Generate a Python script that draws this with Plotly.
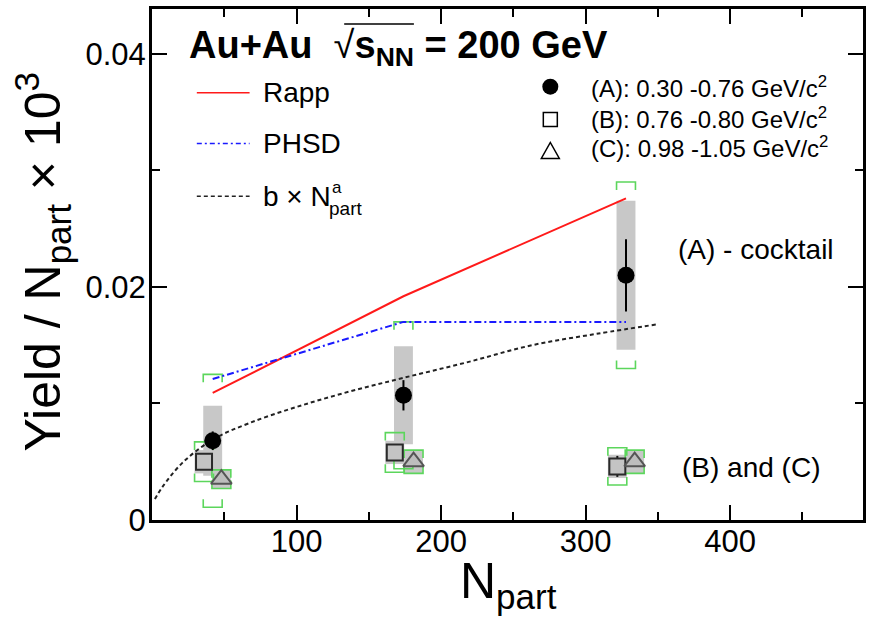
import plotly.graph_objects as go

# Mean number of participants for the three centrality classes
npart_A = [42, 174, 328]
npart_B = [36, 168, 322]
npart_C = [48, 181, 334]

# (A) 0.30-0.76 GeV/c^2 : yield / Npart x 10^3
yield_A = [0.0068, 0.0107, 0.0210]
stat_A = [0.0008, 0.0013, 0.0031]
sys_A = [0.0030, 0.0042, 0.0064]
cocktail_A = [0.0057, 0.0063, 0.0080]

# (B) 0.76-0.80 GeV/c^2
yield_B = [0.0050, 0.0058, 0.0046]
stat_B = [0.0005, 0.0006, 0.0009]
sys_B = [0.0010, 0.0010, 0.0010]
bracket_B = [0.0017, 0.0017, 0.0016]

# (C) 0.98-1.05 GeV/c^2
yield_C = [0.0035, 0.0050, 0.0050]
sys_C = [0.0008, 0.0010, 0.0010]
bracket_C = [0.0008, 0.0010, 0.0010]

# Model calculations
model_npart = [42, 174, 328]
rapp = [0.0109, 0.0192, 0.0276]
phsd = [0.0121, 0.0170, 0.0170]

# Power-law fit b x Npart^a, sampled along the curve
fit_npart = [2, 7, 21, 42, 67, 100, 136, 174, 217, 263, 309, 350]
fit_vals = [0.0018, 0.0028, 0.0049, 0.0069, 0.0083, 0.0097, 0.0110, 0.0122,
            0.0135, 0.0150, 0.0160, 0.0168]

x_tickvals = [100, 200, 300, 400]
y_tickvals = [0, 0.02, 0.04]
y_ticktext = ["0", "0.02", "0.04"]

X_RANGE = [0, 492]
Y_RANGE = [0, 0.04385]

W, H = 872, 618
L, R, T, B = 152, 866, 7, 520          # plot-area edges in pixels
FONT = "Liberation Sans, Arial, Helvetica, sans-serif"
GREEN = "#5cd65c"
GREY = "#c8c8c8"

px_per_x = (R - L) / (X_RANGE[1] - X_RANGE[0])
px_per_y = (B - T) / (Y_RANGE[1] - Y_RANGE[0])
BOX_HW = 9.5 / px_per_x               # half width of systematic boxes
LEG = 8 / px_per_y                    # bracket leg length


def fx(px):
    return (px - L) / (R - L)


def fy(py):
    return (B - py) / (B - T)


def label(text, px, py, size, xanchor="left", **kw):
    return dict(text=text, x=fx(px), y=fy(py), xref="paper", yref="paper",
                xanchor=xanchor, yanchor="middle", showarrow=False,
                font=dict(size=size, color="black", family=FONT), **kw)


fig = go.Figure()
shapes = []

# grey systematic boxes
for xs, ys, es in [(npart_A, yield_A, sys_A), (npart_B, yield_B, sys_B),
                   (npart_C, yield_C, sys_C)]:
    for x, y, e in zip(xs, ys, es):
        shapes.append(dict(type="rect", xref="x", yref="y", layer="below",
                           x0=x - BOX_HW, x1=x + BOX_HW, y0=y - e, y1=y + e,
                           fillcolor=GREY, line=dict(width=0)))

# green brackets
bx, by = [], []
for xs, ys, es in [(npart_A, yield_A, cocktail_A), (npart_B, yield_B, bracket_B),
                   (npart_C, yield_C, bracket_C)]:
    for x, y, e in zip(xs, ys, es):
        top, bot = y + e, y - e
        bx += [x - BOX_HW, x - BOX_HW, x + BOX_HW, x + BOX_HW, None]
        by += [top - LEG, top, top, top - LEG, None]
        bx += [x - BOX_HW, x - BOX_HW, x + BOX_HW, x + BOX_HW, None]
        by += [bot + LEG, bot, bot, bot + LEG, None]
fig.add_trace(go.Scatter(x=bx, y=by, mode="lines", line=dict(color=GREEN, width=1.6),
                         hoverinfo="skip", showlegend=False))

# model curves
fig.add_trace(go.Scatter(x=model_npart, y=rapp, mode="lines", name="Rapp",
                         line=dict(color="#ff1a1a", width=2), showlegend=False))
fig.add_trace(go.Scatter(x=model_npart, y=phsd, mode="lines", name="PHSD",
                         line=dict(color="#1a1aff", width=2, dash="7px,3px,2px,3px"),
                         showlegend=False))
fig.add_trace(go.Scatter(x=fit_npart, y=fit_vals, mode="lines", name="fit",
                         line=dict(color="#222222", width=2, dash="4px,3px", shape="spline"),
                         showlegend=False))

# data points
fig.add_trace(go.Scatter(x=npart_B, y=yield_B, mode="markers", showlegend=False,
                         marker=dict(symbol="square", size=16, color="#c4c4c4",
                                     line=dict(color="#2a2a2a", width=2)),
                         error_y=dict(type="data", array=stat_B, color="#111",
                                      thickness=2, width=0)))
fig.add_trace(go.Scatter(x=npart_C, y=yield_C, mode="markers", showlegend=False,
                         marker=dict(symbol="triangle-up", size=18, color="#bdbdbd",
                                     line=dict(color="#555555", width=2))))
fig.add_trace(go.Scatter(x=npart_A, y=yield_A, mode="markers", showlegend=False,
                         marker=dict(symbol="circle", size=17, color="black"),
                         error_y=dict(type="data", array=stat_A, color="black",
                                      thickness=2, width=0)))

# left legend: model lines
left_items = [("Rapp", dict(color="#ff1a1a", width=1.5), 91),
              ("PHSD", dict(color="#1a1aff", width=1.5, dash="5px,3px,2px,3px"), 142),
              ("b \u00d7 N", dict(color="#222222", width=1.5, dash="4px,3px"), 195)]
annotations = []
for text, line, py in left_items:
    shapes.append(dict(type="line", xref="paper", yref="paper", x0=fx(197), x1=fx(250),
                       y0=fy(py), y1=fy(py), line=line))
    annotations.append(label(text, 261, py, 28))
annotations.append(label("a", 331, 186, 17))
annotations.append(label("part", 328, 207, 19))

# right legend: marker keys
shapes.append(dict(type="circle", xref="paper", yref="paper", xsizemode="pixel",
                   ysizemode="pixel", xanchor=fx(552), yanchor=fy(85),
                   x0=-8, x1=8, y0=-8, y1=8, fillcolor="black", line=dict(width=0)))
shapes.append(dict(type="rect", xref="paper", yref="paper", xsizemode="pixel",
                   ysizemode="pixel", xanchor=fx(552), yanchor=fy(118),
                   x0=-7, x1=7, y0=-7, y1=7, fillcolor="white",
                   line=dict(color="black", width=1.5)))
shapes.append(dict(type="path", xref="paper", yref="paper", xsizemode="pixel",
                   ysizemode="pixel", xanchor=fx(552), yanchor=fy(149),
                   path="M-9,-8 L9,-8 L0,8 Z", fillcolor="white",
                   line=dict(color="black", width=1.5)))
right_items = [("(A): 0.30 -0.76 GeV/c<sup>2</sup>", 85),
               ("(B): 0.76 -0.80 GeV/c<sup>2</sup>", 116),
               ("(C): 0.98 -1.05 GeV/c<sup>2</sup>", 146)]
for text, py in right_items:
    annotations.append(label(text, 591, py, 24))

# header with square-root bar
annotations.append(label("<b>Au+Au</b>\u00a0\u00a0\u221a<b>s<sub>NN</sub> = 200 GeV</b>",
                         187, 46, 38))
shapes.append(dict(type="line", xref="paper", yref="paper", x0=fx(345), x1=fx(415),
                   y0=fy(22), y1=fy(22), line=dict(color="black", width=1.5)))

annotations.append(label("(A) - cocktail", 678, 248, 28))
annotations.append(label("(B) and (C)", 682, 467, 28))

# axis titles
annotations.append(label("N<sub>part</sub>", 510, 585, 50, xanchor="center"))
annotations.append(label("Yield / N<sub>part</sub> \u00d7 10<sup>3</sup>", 42, 260, 50,
                         xanchor="center", textangle=-90))

axis_common = dict(showline=True, linecolor="black", linewidth=3, mirror="allticks",
                   ticks="inside", ticklen=15, tickwidth=1.5, tickcolor="black",
                   showgrid=False, zeroline=False,
                   tickfont=dict(size=31, color="black", family=FONT))

fig.update_layout(
    width=W, height=H,
    margin=dict(l=L, r=W - R, t=T, b=H - B, pad=0),
    paper_bgcolor="white", plot_bgcolor="white",
    font=dict(family=FONT, size=24, color="black"),
    showlegend=False,
    shapes=shapes, annotations=annotations,
    xaxis=dict(range=X_RANGE, tickmode="array", tickvals=x_tickvals,
               ticklabelstandoff=-8,
               minor=dict(tick0=0, dtick=50, ticklen=8, tickwidth=1.5, ticks="inside",
                          tickcolor="black"),
               **axis_common),
    yaxis=dict(range=Y_RANGE, tickmode="array", tickvals=y_tickvals, ticktext=y_ticktext,
               ticklabelstandoff=-3,
               minor=dict(tick0=0, dtick=0.01, ticklen=8, tickwidth=1.5, ticks="inside",
                          tickcolor="black"),
               **axis_common),
)

fig.write_html("out.html")
